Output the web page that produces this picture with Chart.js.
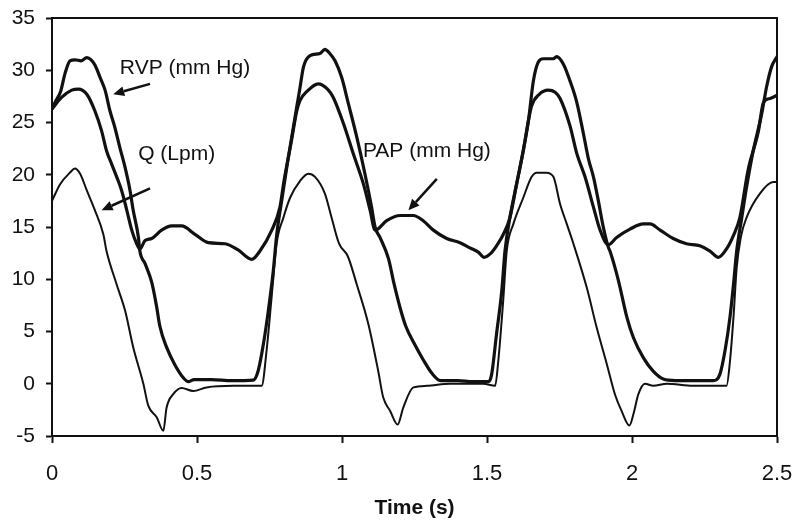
<!DOCTYPE html>
<html>
<head>
<meta charset="utf-8">
<script src="https://cdn.jsdelivr.net/npm/chart.js@4.4.0/dist/chart.umd.min.js"></script>
<style>
	html, body { margin: 0; padding: 0; background: #fff; }
	canvas { display: block; }
</style>
</head>
<body>
<canvas id="chart" width="800" height="529"></canvas>
<script>
(() => {
	'use strict'

	// Traces, [time (s), value]
	const rvp = [
		[0, 26.3], [0.01, 26.9], [0.03, 28.0], [0.045, 29.7], [0.062, 30.9], [0.08, 31.0], [0.1, 30.9],
		[0.12, 31.2], [0.135, 31.0], [0.148, 30.5], [0.166, 29.3], [0.183, 28.1], [0.2, 26.1], [0.217, 24.5],
		[0.234, 22.6], [0.252, 20.7], [0.269, 18.5], [0.28, 16.6], [0.298, 14.0], [0.303, 12.7], [0.321, 11.5],
		[0.344, 9.7], [0.36, 7.5], [0.372, 5.5], [0.395, 3.5], [0.424, 1.8], [0.455, 0.5], [0.47, 0.2],
		[0.49, 0.4], [0.55, 0.4], [0.62, 0.3], [0.694, 0.35], [0.711, 1.25], [0.729, 3.8], [0.746, 7.0],
		[0.763, 10.8], [0.775, 14.3], [0.792, 17.5], [0.81, 20.8], [0.826, 23.5], [0.844, 26.5], [0.855, 28.3],
		[0.867, 30.3], [0.89, 31.4], [0.924, 31.6], [0.941, 32.0], [0.958, 31.6], [0.976, 30.9], [0.999, 29.3],
		[1.022, 26.8], [1.051, 23.6], [1.079, 20.1], [1.102, 16.9], [1.114, 15.0], [1.131, 14.0], [1.16, 12.0],
		[1.18, 9.5], [1.2, 7.3], [1.22, 5.5], [1.25, 3.8], [1.28, 2.3], [1.31, 1.0], [1.34, 0.3], [1.4, 0.3],
		[1.45, 0.2], [1.505, 0.2], [1.516, 0.9], [1.533, 4.8], [1.551, 8.9], [1.562, 12.7], [1.579, 15.9],
		[1.602, 19.1], [1.625, 22.3], [1.643, 25.2], [1.66, 29.0], [1.677, 30.8], [1.694, 31.1], [1.729, 31.1],
		[1.74, 31.3], [1.763, 30.6], [1.786, 29.0], [1.809, 27.0], [1.832, 24.0], [1.85, 21.5], [1.867, 19.8],
		[1.884, 17.5], [1.901, 15.0], [1.918, 13.1], [1.924, 12.7], [1.953, 9.9], [1.982, 6.4], [2.005, 4.4],
		[2.039, 2.5], [2.073, 1.2], [2.108, 0.45], [2.15, 0.3], [2.2, 0.3], [2.28, 0.3], [2.303, 0.9],
		[2.321, 3.2], [2.338, 6.4], [2.35, 9.5], [2.361, 12.7], [2.378, 15.8], [2.395, 18.8], [2.418, 22.3],
		[2.447, 25.8], [2.464, 28.4], [2.481, 30.3], [2.5, 31.3]
	];

	const pap = [
		[0, 26.3], [0.033, 27.4], [0.068, 28.1], [0.091, 28.2], [0.12, 27.7], [0.148, 26.1], [0.171, 24.2],
		[0.188, 22.3], [0.206, 21.0], [0.223, 19.8], [0.24, 18.5], [0.258, 16.6], [0.275, 14.7], [0.292, 13.4],
		[0.303, 12.9], [0.321, 13.7], [0.344, 13.9], [0.378, 14.7], [0.413, 15.1], [0.447, 15.1], [0.493, 14.3],
		[0.539, 13.5], [0.597, 13.4], [0.642, 12.8], [0.689, 11.9], [0.717, 12.7], [0.758, 14.7], [0.786, 16.9],
		[0.8, 19.4], [0.826, 23.3], [0.844, 26.1], [0.855, 27.1], [0.88, 28.0], [0.918, 28.7], [0.95, 28.2],
		[0.97, 27.4], [1.005, 24.9], [1.039, 22.0], [1.074, 19.1], [1.097, 16.6], [1.114, 14.7], [1.154, 15.6],
		[1.2, 16.1], [1.246, 16.1], [1.28, 15.6], [1.315, 14.7], [1.361, 13.9], [1.407, 13.5], [1.441, 13.0],
		[1.47, 12.6], [1.49, 12.1], [1.51, 12.4], [1.533, 13.2], [1.56, 14.5], [1.579, 15.9], [1.602, 19.1],
		[1.625, 22.3], [1.643, 25.2], [1.654, 26.6], [1.68, 27.7], [1.711, 28.1], [1.735, 27.9], [1.752, 27.3],
		[1.786, 24.7], [1.81, 22.0], [1.838, 19.8], [1.867, 16.9], [1.89, 14.7], [1.918, 13.3], [1.947, 14.0],
		[1.993, 14.8], [2.039, 15.3], [2.062, 15.3], [2.097, 14.7], [2.142, 13.9], [2.188, 13.4], [2.234, 13.2],
		[2.269, 12.7], [2.298, 12.1], [2.326, 12.9], [2.35, 14.2], [2.372, 15.9], [2.4, 20.4], [2.436, 24.2],
		[2.453, 26.9], [2.476, 27.3], [2.5, 27.6]
	];

	const flow = [
		[0, 17.5], [0.028, 19.1], [0.062, 20.2], [0.079, 20.6], [0.097, 20.1], [0.12, 18.5], [0.148, 16.6],
		[0.177, 14.3], [0.188, 12.7], [0.223, 9.5], [0.252, 7.0], [0.28, 3.5], [0.315, 0], [0.332, -2.1],
		[0.361, -3.2], [0.384, -4.5], [0.395, -2.3], [0.418, -1.0], [0.447, -0.4], [0.487, -0.7], [0.533, -0.35],
		[0.625, -0.2], [0.723, -0.2], [0.74, 3.2], [0.758, 8.5], [0.775, 13.5], [0.798, 15.9], [0.821, 17.8],
		[0.855, 19.4], [0.884, 20.1], [0.907, 19.8], [0.941, 18.2], [0.964, 15.9], [0.99, 13.4], [1.02, 12.2],
		[1.051, 9.5], [1.091, 5.7], [1.125, 1.2], [1.142, -1.3], [1.166, -2.6], [1.192, -3.9], [1.211, -2.3],
		[1.246, -0.35], [1.292, -0.2], [1.372, 0], [1.487, 0], [1.528, -0.2], [1.539, 2.2], [1.556, 8.0],
		[1.568, 12.7], [1.591, 15.3], [1.625, 17.8], [1.654, 19.8], [1.671, 20.2], [1.705, 20.2], [1.729, 19.8],
		[1.752, 17.2], [1.775, 15.3], [1.798, 13.4], [1.844, 9.2], [1.878, 5.4], [1.913, 1.9], [1.941, -1.0],
		[1.964, -2.6], [1.991, -4.0], [2.005, -2.9], [2.022, -1.0], [2.045, 0], [2.073, -0.2], [2.12, 0],
		[2.211, -0.2], [2.326, -0.2], [2.338, 2.2], [2.35, 6.4], [2.361, 11.1], [2.375, 14.0], [2.395, 15.9],
		[2.441, 18.2], [2.487, 19.3], [2.5, 19.3]
	];

	// Axis ticks
	const xTicks = [0, 0.5, 1, 1.5, 2, 2.5];
	const yTicks = [-5, 0, 5, 10, 15, 20, 25, 30, 35];

	// Callout labels (anchor in data units) and their arrows
	const calloutText = ['RVP (mm Hg)', 'Q (Lpm)', 'PAP (mm Hg)'];
	const calloutAt = [[0.234, 30.2], [0.297, 22.0], [1.072, 22.3]];
	const arrowFrom = [[0.338, 28.7], [0.338, 18.7], [1.327, 19.6]];
	const arrowTo = [[0.211, 27.7], [0.171, 16.6], [1.229, 16.6]];

	const ink = '#111';
	const fontFamily = '"Liberation Sans", Arial, sans-serif';

	const toPoints = (rows) => rows.map(([x, y]) => ({ x, y }));

	// Box round the plot area
	const framePlugin = {
		id: 'frame',
		afterDatasetsDraw(chart) {
			const { ctx, chartArea: a } = chart;
			ctx.save();
			ctx.strokeStyle = ink;
			ctx.lineWidth = 2;
			ctx.strokeRect(a.left, a.top, a.right - a.left, a.bottom - a.top);
			ctx.restore();
		}
	};

	// Text callouts with arrows
	const calloutPlugin = {
		id: 'callouts',
		afterDatasetsDraw(chart) {
			const { ctx, scales: { x, y } } = chart;
			ctx.save();
			ctx.fillStyle = ink;
			ctx.strokeStyle = ink;
			ctx.font = '21px ' + fontFamily;
			ctx.textAlign = 'left';
			ctx.textBaseline = 'middle';
			calloutText.forEach((text, i) => {
				ctx.fillText(text, x.getPixelForValue(calloutAt[i][0]), y.getPixelForValue(calloutAt[i][1]));

				const x0 = x.getPixelForValue(arrowFrom[i][0]);
				const y0 = y.getPixelForValue(arrowFrom[i][1]);
				const x1 = x.getPixelForValue(arrowTo[i][0]);
				const y1 = y.getPixelForValue(arrowTo[i][1]);
				const ang = Math.atan2(y1 - y0, x1 - x0);
				const head = 11;
				const bx = x1 - head * Math.cos(ang);
				const by = y1 - head * Math.sin(ang);

				ctx.lineWidth = 2.5;
				ctx.beginPath();
				ctx.moveTo(x0, y0);
				ctx.lineTo(bx, by);
				ctx.stroke();

				ctx.beginPath();
				ctx.moveTo(x1, y1);
				ctx.lineTo(bx + 5 * Math.sin(ang), by - 5 * Math.cos(ang));
				ctx.lineTo(bx - 5 * Math.sin(ang), by + 5 * Math.cos(ang));
				ctx.closePath();
				ctx.fill();
			});
			ctx.restore();
		}
	};

	const lineStyle = (width) => ({
		showLine: true,
		borderColor: ink,
		borderWidth: width,
		pointRadius: 0,
		fill: false,
		cubicInterpolationMode: 'monotone',
		borderJoinStyle: 'round',
		borderCapStyle: 'round'
	});

	const config = {
		type: 'scatter',
		data: {
			datasets: [
				Object.assign({ label: 'RVP (mm Hg)', data: toPoints(rvp) }, lineStyle(3.2)),
				Object.assign({ label: 'PAP (mm Hg)', data: toPoints(pap) }, lineStyle(3.2)),
				Object.assign({ label: 'Q (Lpm)', data: toPoints(flow) }, lineStyle(2))
			]
		},
		options: {
			responsive: false,
			animation: false,
			devicePixelRatio: 1,
			layout: {
				padding: { top: 18, right: 23, left: 0, bottom: 0 }
			},
			scales: {
				x: {
					type: 'linear',
					min: 0,
					max: 2.5,
					afterBuildTicks: (s) => { s.ticks = xTicks.map(v => ({ value: v })); },
					afterFit: (s) => { s.height = 93; s.paddingLeft = 0; s.paddingRight = 0; },
					grid: { drawOnChartArea: false, drawTicks: true, tickLength: 7, tickWidth: 2, tickColor: ink },
					border: { display: true, color: ink, width: 2 },
					ticks: {
						color: ink,
						padding: 18,
						maxRotation: 0,
						font: { family: fontFamily, size: 22 },
						callback: (v) => String(v)
					},
					title: {
						display: true,
						text: 'Time (s)',
						color: ink,
						font: { family: fontFamily, size: 21, weight: 'bold' },
						padding: { top: 0, bottom: 8 }
					}
				},
				y: {
					type: 'linear',
					min: -5,
					max: 35,
					afterBuildTicks: (s) => { s.ticks = yTicks.map(v => ({ value: v })); },
					afterFit: (s) => { s.width = 52; s.paddingTop = 0; s.paddingBottom = 0; },
					grid: { drawOnChartArea: false, drawTicks: true, tickLength: 6, tickWidth: 2, tickColor: ink },
					border: { display: true, color: ink, width: 2 },
					ticks: {
						color: ink,
						padding: 11,
						font: { family: fontFamily, size: 21 },
						callback: (v) => String(v)
					}
				}
			},
			plugins: {
				legend: { display: false },
				title: { display: false },
				tooltip: { enabled: false }
			}
		},
		plugins: [framePlugin, calloutPlugin]
	};

	new Chart(document.getElementById('chart'), config);
})()
</script>
</body>
</html>
